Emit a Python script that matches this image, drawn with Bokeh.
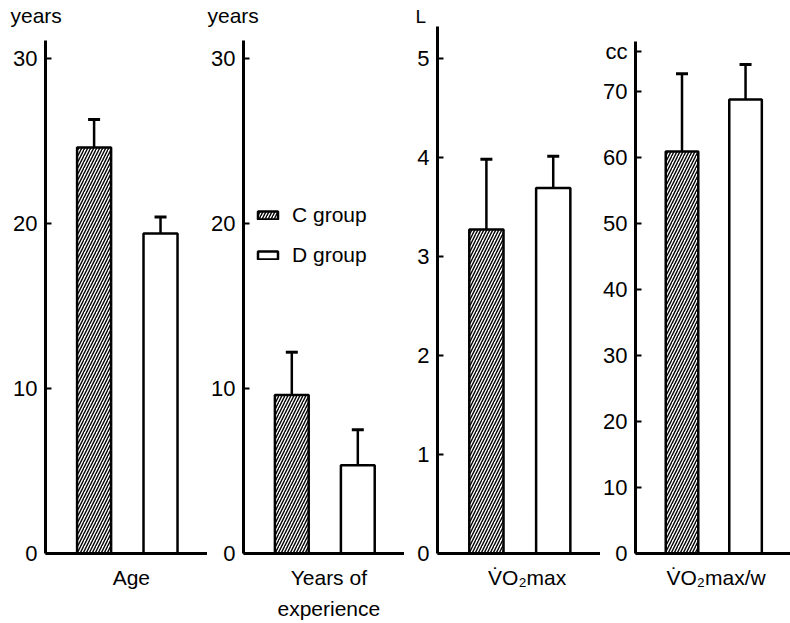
from bokeh.plotting import figure
from bokeh.layouts import row
from bokeh.models import (ColumnDataSource, FixedTicker, Range1d, Whisker, TeeHead,
                          Legend, LegendItem, Title)
from bokeh.embed import file_html
from bokeh.resources import INLINE

# ---- data ----
groups = ["C group", "D group"]
panel_labels = ["Age", "Years of\nexperience", "V\u0307O\u2082max", "V\u0307O\u2082max/w"]
units = ["years", "years", "L", "cc"]
c_mean = [24.6, 9.6, 3.27, 60.9]
c_sd = [1.7, 2.6, 0.71, 11.8]
d_mean = [19.4, 5.35, 3.69, 68.8]
d_sd = [1.0, 2.15, 0.32, 5.3]
y_ticks = [[0, 10, 20, 30], [0, 10, 20, 30], [0, 1, 2, 3, 4, 5], [0, 10, 20, 30, 40, 50, 60, 70]]
axis_top = [31.1, 31.1, 5.32, 77.6]      # where each drawn axis line ends
y_max = [31.94, 31.94, 5.32, 79.85]      # common frame top for all panels
unit_level = [None, None, None, 76]      # unit written beside the axis itself

# ---- layout / style ----
FONT = "Liberation Sans"
widths = [207, 197, 196, 190]
border_left = [45, 36, 33, 33]
BORDER_TOP = 26
title_offsets = [-35, -36, -22, 0]
title_sizes = ["21px", "21px", "19px", "19px"]
label_x = [53, 53, 55, 52]
X_C, X_D, BAR_W = 30, 71, 21

figs = []
for i in range(4):
    p = figure(width=widths[i], height=623, output_backend="svg", toolbar_location=None,
               x_range=Range1d(0, 100), y_range=Range1d(0, y_max[i]),
               min_border_left=border_left[i], min_border_right=0,
               min_border_top=BORDER_TOP, min_border_bottom=70)
    p.outline_line_color = None
    p.xgrid.visible = False
    p.ygrid.visible = False
    p.background_fill_color = "white"
    p.border_fill_color = "white"

    src_c = ColumnDataSource(dict(x=[X_C], top=[c_mean[i]], up=[c_mean[i] + c_sd[i]]))
    src_d = ColumnDataSource(dict(x=[X_D], top=[d_mean[i]], up=[d_mean[i] + d_sd[i]]))

    rc = p.vbar(x="x", top="top", bottom=0, width=BAR_W, source=src_c,
                fill_color="white", line_color="black", line_width=2.5,
                hatch_pattern="/", hatch_color="black", hatch_scale=6, hatch_weight=1.4)
    rd = p.vbar(x="x", top="top", bottom=0, width=BAR_W, source=src_d,
                fill_color="white", line_color="black", line_width=2.5)

    for src in (src_c, src_d):
        w = Whisker(base="x", lower="top", upper="up", source=src, dimension="height",
                    line_color="black", line_width=2.5, lower_head=None,
                    upper_head=TeeHead(size=12, line_width=3, line_color="black"))
        p.add_layout(w)

    # y axis
    yax = p.yaxis[0]
    ticks = list(y_ticks[i])
    if unit_level[i] is not None:
        ticks = ticks + [unit_level[i]]
        yax.major_label_overrides = {unit_level[i]: units[i]}
    yax.ticker = FixedTicker(ticks=ticks)
    yax.bounds = (0, axis_top[i])
    yax.axis_line_width = 3
    yax.axis_line_color = "black"
    yax.major_tick_in = 6
    yax.major_tick_out = 0
    yax.major_tick_line_width = 2
    yax.minor_tick_line_color = None
    yax.major_label_standoff = 8
    yax.major_label_text_font = FONT
    yax.major_label_text_font_size = "22px"
    yax.major_label_text_color = "black"

    # x axis: baseline + category name
    xax = p.xaxis[0]
    xax.ticker = FixedTicker(ticks=[label_x[i]])
    xax.major_label_overrides = {label_x[i]: panel_labels[i]}
    xax.axis_line_width = 3
    xax.axis_line_color = "black"
    xax.major_tick_line_color = None
    xax.major_tick_in = 0
    xax.major_tick_out = 0
    xax.minor_tick_line_color = None
    xax.major_label_standoff = 12
    xax.major_label_text_font = FONT
    xax.major_label_text_font_size = "21px"
    xax.major_label_text_color = "black"
    xax.major_label_text_line_height = 1.35

    # unit label above the axis
    if unit_level[i] is None:
        p.add_layout(Title(text=units[i], align="left", offset=title_offsets[i],
                           standoff=0, text_font=FONT,
                           text_font_size=title_sizes[i], text_font_style="normal",
                           text_color="black"), "above")

    if i == 1:
        leg = Legend(items=[LegendItem(label=groups[0], renderers=[rc]),
                            LegendItem(label=groups[1], renderers=[rd])],
                     location=(12, 286), orientation="vertical",
                     glyph_width=25, glyph_height=10, label_height=20, label_width=90,
                     label_standoff=12, spacing=16, padding=0, margin=0,
                     background_fill_alpha=0, border_line_color=None,
                     label_text_font=FONT, label_text_font_size="21px",
                     label_text_color="black")
        p.add_layout(leg, "center")
    figs.append(p)

layout = row(*figs)
open("out.html", "w").write(file_html(layout, INLINE))
